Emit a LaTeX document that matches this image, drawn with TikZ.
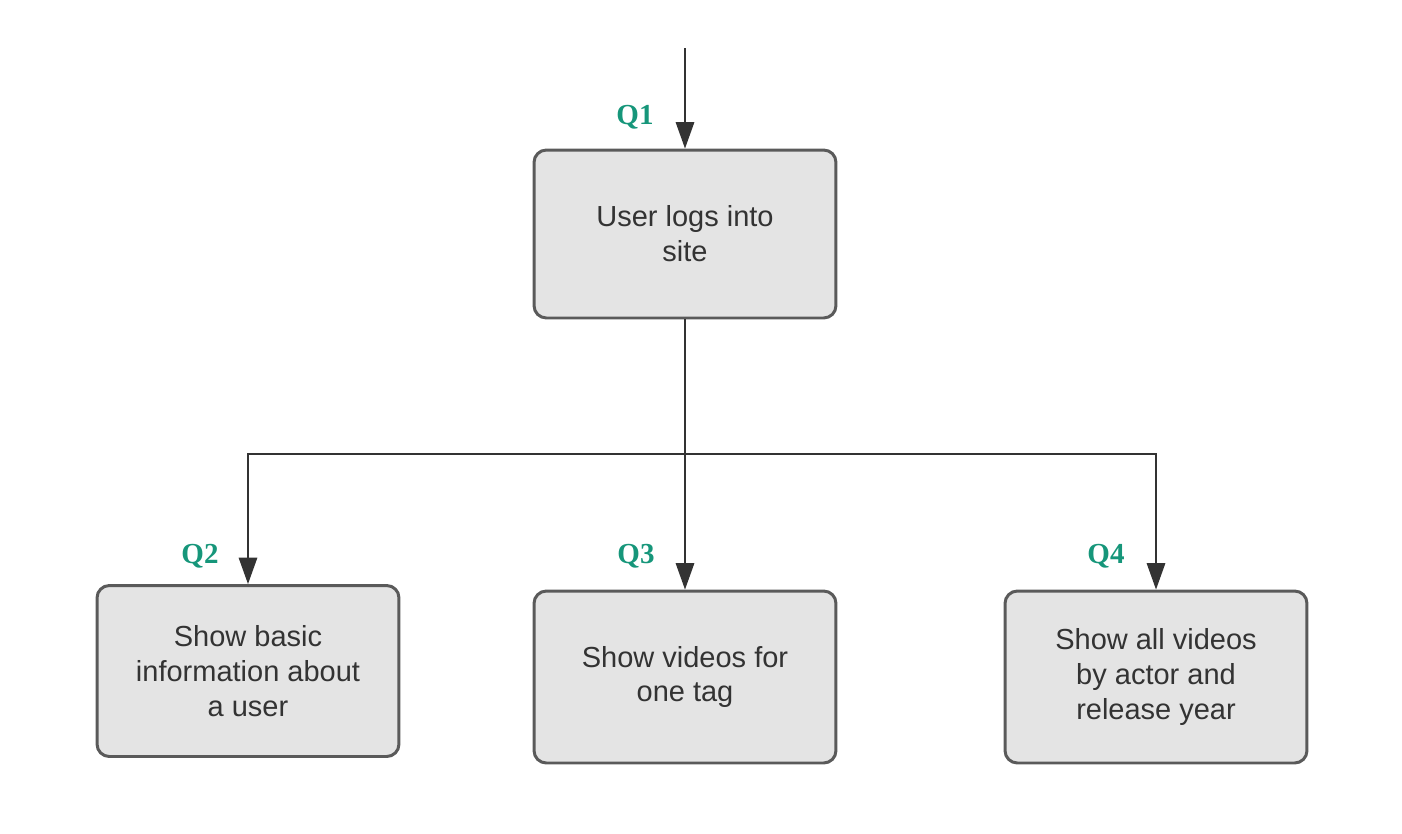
\documentclass[tikz,border=0pt]{standalone}
\usepackage{fontspec}
\setmainfont{Liberation Sans}
\newfontfamily\qfont{Liberation Serif}
\usetikzlibrary{arrows.meta,positioning}
\definecolor{boxfill}{HTML}{E4E4E4}
\definecolor{boxline}{HTML}{5A5A5A}
\definecolor{ink}{HTML}{333333}
\definecolor{qteal}{HTML}{16967A}
\begin{document}
\begin{tikzpicture}[x=0.02cm,y=-0.02cm,>={Triangle[length=15pt,width=10.5pt]},
  task/.style = {draw=boxline, fill=boxfill, line width=1.7pt, rounded corners=7pt, minimum width=6.04cm, minimum height=3.36cm, align=center, text=ink, font=\fontsize{16.5}{19.8}\selectfont},
  qtag/.style = {text=qteal, font=\qfont\bfseries\fontsize{16.5}{18}\selectfont},
  flow/.style = {->, draw=ink, line width=0.85pt},]
\useasboundingbox (0,0) rectangle (1402,833);
\node (login) at (685,234)[task] {User logs into\\site};
\node (basic) at (248,671)[task,minimum height=3.42cm] {Show basic\\information about\\a user};
\node (tag) at (685,677)[task,minimum height=3.44cm] {Show videos for\\one tag};
\node (actor) at (1156,677)[task,minimum height=3.44cm] {Show all videos\\by actor and\\release year};
\node (q1) at (635,117)[qtag] {Q1};
\node (q2) at (200,556)[qtag] {Q2};
\node (q3) at (636,556)[qtag] {Q3};
\node (q4) at (1106,556)[qtag] {Q4};
\coordinate (entry) at (685,48);
\coordinate (split) at (685,454);
\draw[flow] (entry)--(login);
\draw[flow,-] (login)--(split);
\draw[flow] (split)-|(basic);
\draw[flow] (split)--(tag);
\draw[flow] (split)-|(actor);
\end{tikzpicture}
\end{document}
